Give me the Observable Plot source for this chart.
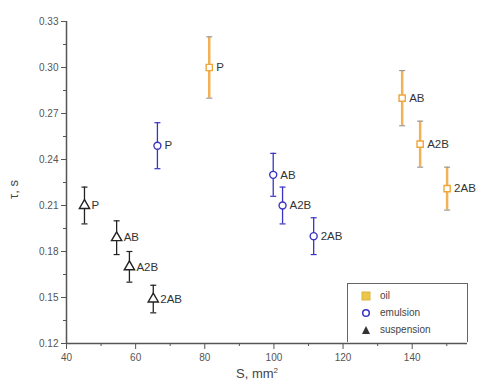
<!DOCTYPE html>
<html><head><meta charset="utf-8">
<script src="https://cdn.jsdelivr.net/npm/d3@7"></script>
<script src="https://cdn.jsdelivr.net/npm/@observablehq/plot@0.6"></script>
<style>
body{margin:0;background:#fff;font-family:Arial,"Liberation Sans",sans-serif;}
#wrap{position:relative;width:484px;height:389px;}
.lbl{position:absolute;color:#444;}
#legend{position:absolute;left:347px;top:283px;width:119px;height:58px;border:1px solid #666;border-bottom:none;background:#fff;font-size:10px;color:#444;}
.row{position:absolute;left:0;height:14px;line-height:14px;}
.row svg{position:absolute;left:13px;top:2px;}
.row span{position:absolute;left:32px;}
</style></head>
<body><div id="wrap"></div>
<script>
const groups = ["oil", "emulsion", "suspension"];
const pointLabels = ["P", "AB", "A2B", "2AB"];
const oilS = [81.3, 137.1, 142.3, 150.1];
const oilT = [0.300, 0.280, 0.250, 0.221];
const oilErr = [0.020, 0.018, 0.015, 0.014];
const emuS = [66.3, 99.8, 102.5, 111.5];
const emuT = [0.249, 0.230, 0.210, 0.190];
const emuErr = [0.015, 0.014, 0.012, 0.012];
const susS = [45.2, 54.5, 58.2, 65.1];
const susT = [0.210, 0.189, 0.170, 0.149];
const susErr = [0.012, 0.011, 0.010, 0.009];
const xTicks = [40, 60, 80, 100, 120, 140];
const xMinor = [50, 70, 90, 110, 130, 150];
const yTicks = [0.12, 0.15, 0.18, 0.21, 0.24, 0.27, 0.30, 0.33];
const yMinor = [0.135, 0.165, 0.195, 0.225, 0.255, 0.285, 0.315];

const colors = {oil: "#eea53a", emulsion: "#3a34c4", suspension: "#222"};
const symbols = {oil: "square", emulsion: "circle", suspension: "triangle"};
const sets = {oil: [oilS, oilT, oilErr], emulsion: [emuS, emuT, emuErr], suspension: [susS, susT, susErr]};
const data = [];
for (const g of groups) {
  const [S, T, E] = sets[g];
  S.forEach((s, i) => data.push({group: g, label: pointLabels[i], s, t: T[i], e: E[i]}));
}
const cap = {draw(ctx, size) { const r = 3; ctx.moveTo(-r, 0); ctx.lineTo(r, 0); }};

const marks = [
  Plot.axisX({ticks: xTicks, tickSize: 6, tickPadding: 4, fontSize: 10, color: "#555", label: null}),
  Plot.axisX({ticks: xMinor, tickSize: 3, tickFormat: () => "", label: null, color: "#555"}),
  Plot.axisY({ticks: yTicks, tickSize: 5, tickPadding: 3, fontSize: 10, color: "#555", tickFormat: d3.format(".2f"), label: null}),
  Plot.axisY({ticks: yMinor, tickSize: 3, tickFormat: () => "", label: null, color: "#555"}),
  Plot.ruleX([40], {stroke: "#555", strokeWidth: 1.5}),
  Plot.ruleY([0.12], {stroke: "#555", strokeWidth: 1.5}),
];
for (const g of groups) {
  const d = data.filter(r => r.group === g);
  const isOil = g === "oil";
  marks.push(
    Plot.ruleX(d, {x: "s", y1: r => r.t - r.e, y2: r => r.t + r.e, stroke: colors[g], strokeWidth: isOil ? 2.5 : 1.3, strokeOpacity: isOil ? 0.85 : 1}),
    Plot.dot(d, {x: "s", y: r => r.t + r.e, symbol: cap, stroke: isOil ? "#999" : colors[g], strokeWidth: 1.2}),
    Plot.dot(d, {x: "s", y: r => r.t - r.e, symbol: cap, stroke: isOil ? "#999" : colors[g], strokeWidth: 1.2}),
    Plot.dot(d, {x: "s", y: "t", symbol: symbols[g], r: g === "suspension" ? 3.8 : 3.5, stroke: colors[g], fill: "white", strokeWidth: 1.4}),
    Plot.text(d, {x: "s", y: "t", text: "label", dx: 7, textAnchor: "start", fontSize: 11.5, fill: "#333"})
  );
}

const chart = Plot.plot({
  width: 484, height: 389,
  marginLeft: 66, marginRight: 17, marginTop: 21, marginBottom: 46,
  x: {domain: [40, 156]},
  y: {domain: [0.12, 0.33]},
  style: {background: "transparent", fontFamily: "Arial, 'Liberation Sans', sans-serif"},
  marks
});
const wrap = document.getElementById("wrap");
wrap.appendChild(chart);

const xl = document.createElement("div");
xl.className = "lbl"; xl.style.left = "236px"; xl.style.top = "366px"; xl.style.fontSize = "13px";
xl.innerHTML = "S, mm<sup style='font-size:8px'>2</sup>";
wrap.appendChild(xl);
const yl = document.createElement("div");
yl.className = "lbl"; yl.style.left = "-4px"; yl.style.top = "182px"; yl.style.width = "34px";
yl.style.textAlign = "center"; yl.style.fontSize = "13px";
yl.style.transform = "rotate(-90deg)"; yl.textContent = "τ, s";
wrap.appendChild(yl);

const lg = document.createElement("div"); lg.id = "legend";
const legSym = {
  oil: '<rect x="1" y="1" width="8" height="8" fill="#e9c84a" stroke="#e0b040"/>',
  emulsion: '<circle cx="5" cy="5" r="3.3" fill="white" stroke="#3a34c4" stroke-width="1.5"/>',
  suspension: '<path d="M5 1 L9 9 L1 9 Z" fill="#333"/>'
};
groups.forEach((g, i) => {
  const row = document.createElement("div"); row.className = "row";
  row.style.top = (5 + i * 17) + "px";
  row.innerHTML = `<svg width="10" height="10">${legSym[g]}</svg><span>${g}</span>`;
  lg.appendChild(row);
});
wrap.appendChild(lg);
</script></body></html>
